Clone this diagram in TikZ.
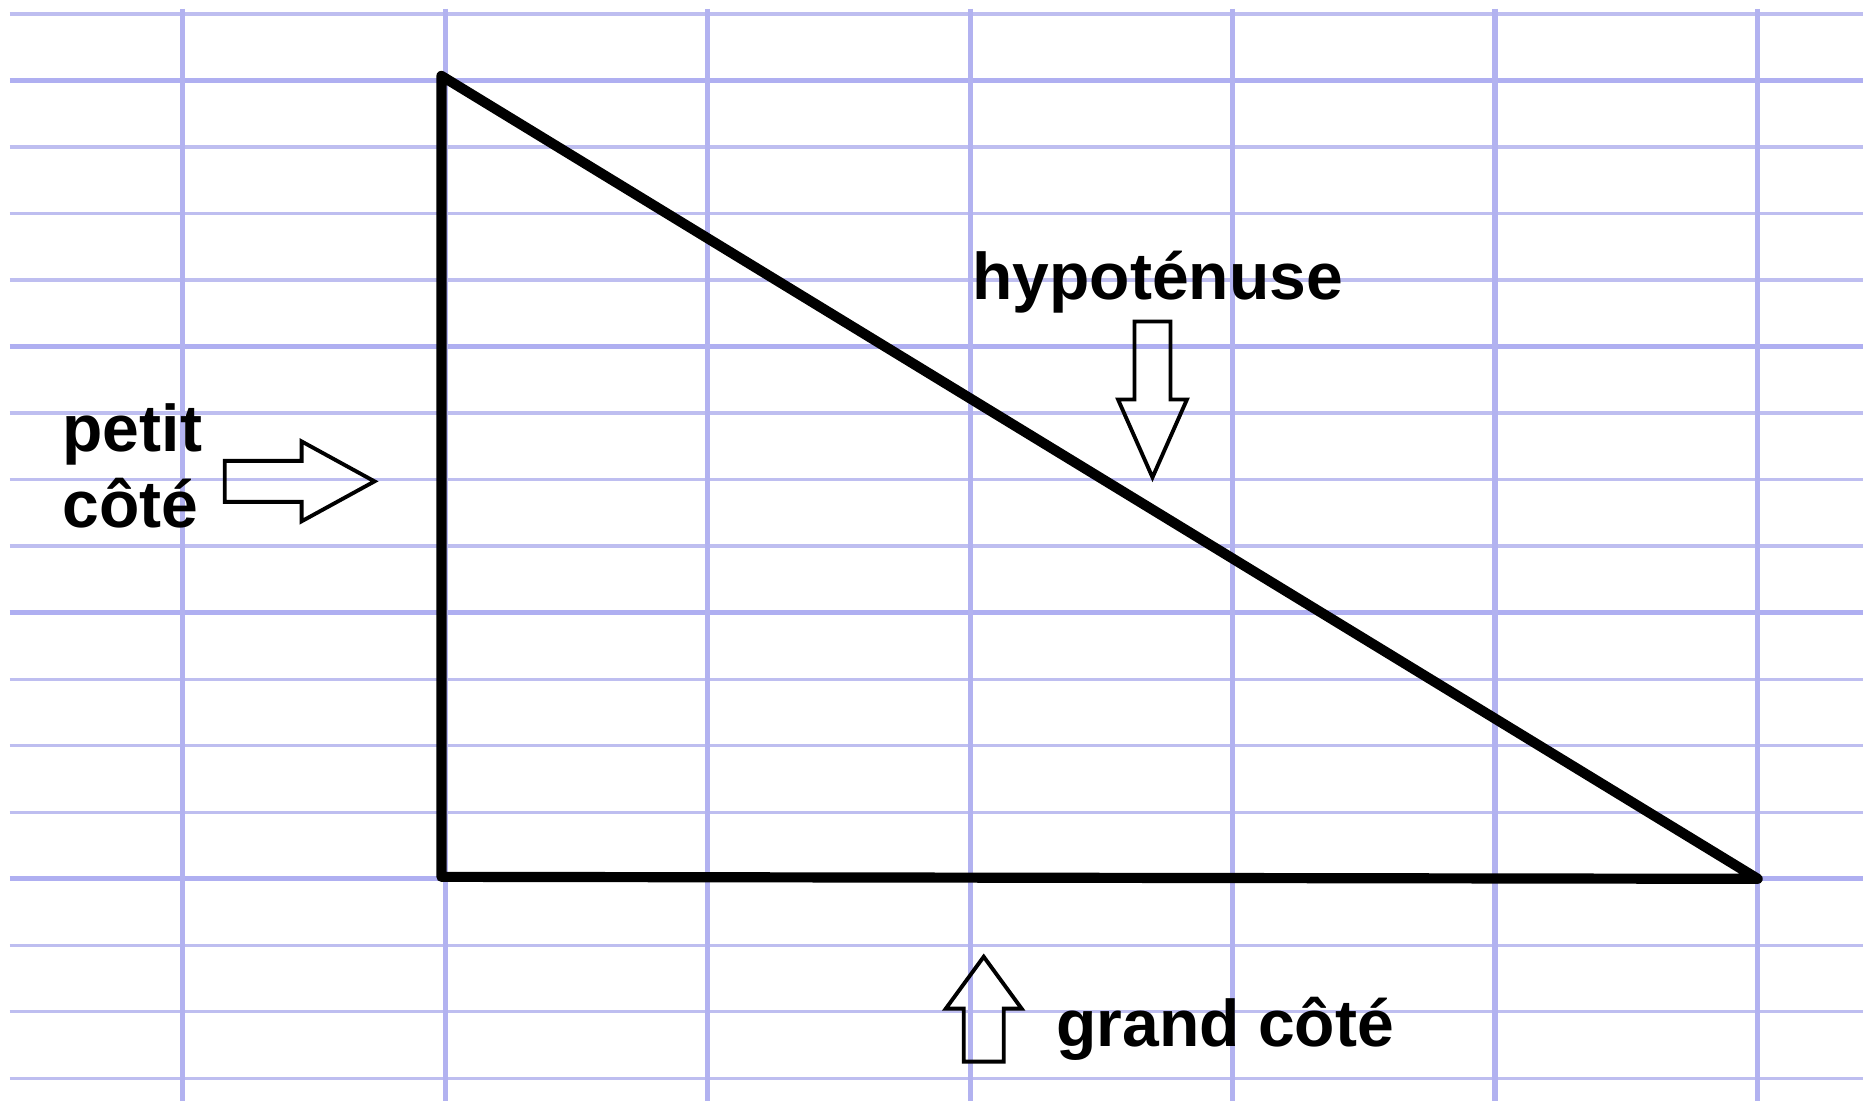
\documentclass[tikz,border=0pt]{standalone}
\usepackage{fontspec}
\setmainfont{Liberation Sans}
\usetikzlibrary{calc}

\begin{document}
\begin{tikzpicture}[
    x=0.01cm, y=-0.01cm,             % 1 drawing unit = 1 scan pixel
    font=\bfseries\fontsize{18.8pt}{22pt}\selectfont,
    hline/.style={line width=0.9pt,ruleB},
    hlineK/.style={line width=1.4pt,ruleB!92!blue},
    vline/.style={line width=1.5pt,ruleA},
    side/.style={line width=2.9pt,black,line join=round,line cap=round},
    blk/.style={line width=1.1pt,black,line join=miter},
    lbl/.style={anchor=base west,inner sep=0pt},
  ]
  \definecolor{ruleA}{RGB}{178,178,240}
  \definecolor{ruleB}{RGB}{190,190,240}

  %% ---------------- paper ----------------
  \def\W{1865}\def\H{1102}\def\DY{66.6}\def\DX{262.8}
  \fill[white] (0,0) rectangle (\W,\H);
  \foreach \k in {0,...,16}{
    \pgfmathtruncatemacro{\m}{mod(\k,4)}
    \ifnum\m=1
      \draw[hlineK] (10,{14+\DY*\k}) -- (\W,{14+\DY*\k});
    \else
      \draw[hline] (10,{14+\DY*\k}) -- (\W,{14+\DY*\k});
    \fi}
  \foreach \j in {0,...,6}{\draw[vline] ({183+\DX*\j},9) -- ({183+\DX*\j},\H);}

  %% ---------------- triangle ----------------
  \coordinate (top) at (442,76);
  \coordinate (corner) at (442,878);
  \coordinate (far) at (1760,880);
  \draw[side] (top) -- (corner) -- (far) -- cycle;

  %% ---------------- block arrows ----------------
  % tip x, tip y, angle, length, head length, shaft width, head width
  \newcommand{\blockarrow}[7]{%
    \draw[blk,shift={(#1,#2)},rotate=#3] (0,0) -- (-#5,{#7/2}) -- (-#5,{#6/2})
      -- (-#4,{#6/2}) -- (-#4,{-#6/2}) -- (-#5,{-#6/2}) -- (-#5,{-#7/2}) -- cycle;}
  \blockarrow{375}{482}{0}{150}{73}{41}{80}
  \blockarrow{1154}{478}{-90}{156}{78}{36}{69}
  \blockarrow{985}{958}{90}{105}{52}{40}{76}

  %% ---------------- labels ----------------
  \node[lbl] (hyp) at (973,300) {hypoténuse};
  \node[lbl] (petit) at (62,452) {petit};
  \node[lbl] (cote) at (62,528) {côté};
  \node[lbl] (grand) at (1057,1048) {grand côté};
\end{tikzpicture}
\end{document}
